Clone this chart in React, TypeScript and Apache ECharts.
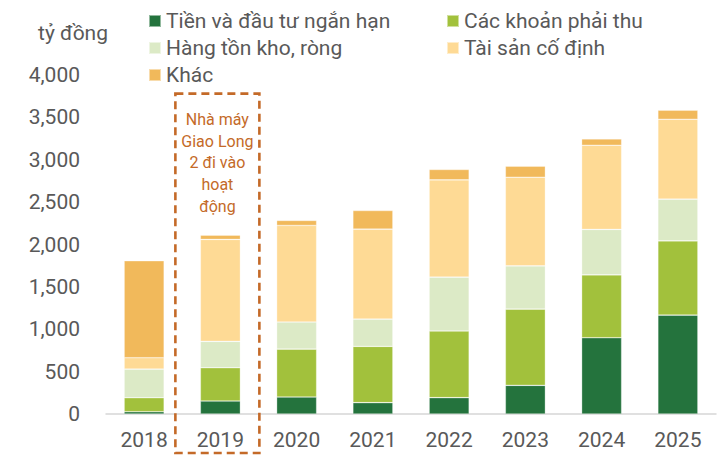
import React, { useEffect, useRef } from "react";
import * as echarts from "echarts";

const years = ["2018", "2019", "2020", "2021", "2022", "2023", "2024", "2025"];
const cash = [27, 153, 200, 134, 193, 338, 900, 1167];
const receivables = [165, 393, 566, 664, 786, 900, 742, 876];
const inventory = [338, 311, 319, 322, 636, 510, 536, 492];
const fixedAssets = [134, 1203, 1140, 1061, 1148, 1046, 993, 943];
const other = [1144, 50, 59, 220, 122, 130, 75, 106];

const seriesNames = [
  "Tiền và đầu tư ngắn hạn",
  "Các khoản phải thu",
  "Hàng tồn kho, ròng",
  "Tài sản cố định",
  "Khác",
];
const seriesColors = ["#24733D", "#A2C13C", "#DCEAC6", "#FEDA95", "#F1B95B"];
const seriesData = [cash, receivables, inventory, fixedAssets, other];

const annotationYear = "2019";
const annotationText = ["Nhà máy", "Giao Long", "2 đi vào", "hoạt", "động"];
const unitLabel = "tỷ đồng";

const FONT = "Roboto, 'Noto Sans', sans-serif";
const TEXT_COLOR = "#595959";
const ANNOT_COLOR = "#C46A28";

export default function App() {
  const ref = useRef<HTMLDivElement>(null);

  useEffect(() => {
    if (!ref.current) return;
    const chart = echarts.init(ref.current, null, { renderer: "svg" });
    const legendText = {
      color: TEXT_COLOR,
      fontSize: 21,
      fontFamily: FONT,
      lineHeight: 26,
    };
    chart.setOption({
      animation: false,
      textStyle: { fontFamily: FONT },
      grid: { left: 106, right: 4, top: 75, bottom: 54 },
      legend: [
        {
          orient: "vertical",
          left: 143,
          top: 3,
          itemWidth: 12,
          itemHeight: 12,
          itemGap: 1,
          icon: "rect",
          textStyle: legendText,
          data: [seriesNames[0], seriesNames[2], seriesNames[4]],
        },
        {
          orient: "vertical",
          left: 441,
          top: 3,
          itemWidth: 12,
          itemHeight: 12,
          itemGap: 1,
          icon: "rect",
          textStyle: legendText,
          data: [seriesNames[1], seriesNames[3]],
        },
      ],
      xAxis: {
        type: "category",
        data: years,
        axisTick: { show: false },
        axisLine: { lineStyle: { color: "#D6D6D6", width: 1.5 } },
        axisLabel: {
          color: TEXT_COLOR,
          fontSize: 21,
          fontFamily: FONT,
          margin: 15,
        },
      },
      yAxis: {
        type: "value",
        min: 0,
        max: 4000,
        interval: 500,
        splitLine: { show: false },
        axisLine: { show: false },
        axisTick: { show: false },
        axisLabel: {
          color: TEXT_COLOR,
          fontSize: 21,
          fontFamily: FONT,
          margin: 26,
          formatter: (v: number) => v.toLocaleString("en-US"),
        },
      },
      series: seriesNames.map((name, i) => ({
        name,
        type: "bar",
        stack: "total",
        barWidth: 40,
        data: seriesData[i],
        itemStyle: {
          color: seriesColors[i],
          borderColor: "rgba(255,255,255,0.5)",
          borderWidth: 0.6,
        },
      })),
    });

    const cx = chart.convertToPixel({ xAxisIndex: 0 }, annotationYear) as number;
    const yTop = chart.convertToPixel({ yAxisIndex: 0 }, 3780) as number;
    const y0 = chart.convertToPixel({ yAxisIndex: 0 }, 0) as number;
    const boxLeft = cx - 45;
    const boxRight = cx + 39;
    const boxBottom = y0 + 39;
    chart.setOption({
      graphic: [
        {
          type: "text",
          right: 720 - 108,
          top: 22,
          style: {
            text: unitLabel,
            fill: TEXT_COLOR,
            font: `21px ${FONT}`,
          },
        },
        {
          type: "rect",
          shape: {
            x: boxLeft,
            y: yTop,
            width: boxRight - boxLeft,
            height: boxBottom - yTop,
          },
          style: {
            fill: "none",
            stroke: ANNOT_COLOR,
            lineWidth: 2.6,
            lineDash: [8, 5],
          },
          z: 10,
        },
        {
          type: "text",
          x: (boxLeft + boxRight) / 2,
          y: yTop + 15,
          style: {
            text: annotationText.join("\n"),
            fill: ANNOT_COLOR,
            font: `16px ${FONT}`,
            lineHeight: 21.7,
            align: "center",
            verticalAlign: "top",
          },
          z: 10,
        },
      ],
    });

    return () => chart.dispose();
  }, []);

  return (
    <div
      ref={ref}
      style={{ position: "absolute", left: 0, top: 0, width: 720, height: 468 }}
    />
  );
}
